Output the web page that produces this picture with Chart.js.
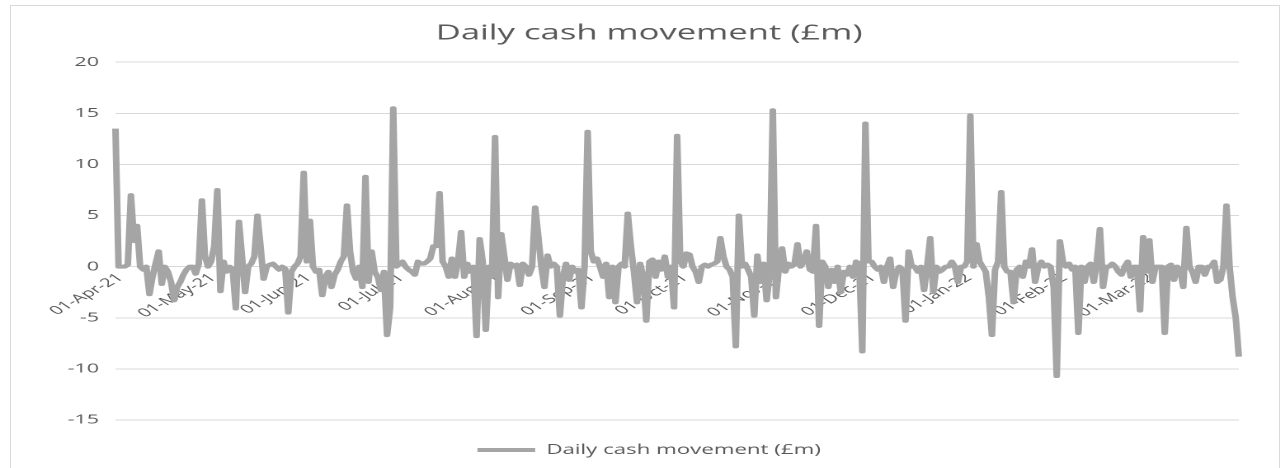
<!DOCTYPE html>
<html>
<head>
<meta charset="utf-8">
<title>Daily cash movement</title>
<script src="https://cdn.jsdelivr.net/npm/chart.js@4/dist/chart.umd.min.js"></script>
<style>
  html, body { margin: 0; padding: 0; background: #fff; }
  #wrap { position: relative; width: 1285px; height: 468px; overflow: hidden; }
  #frame { position: absolute; left: 10px; top: 5px; width: 1270px; height: 470px; border: 1px solid #d9d9d9; box-sizing: border-box; pointer-events: none; }
  canvas { display: block; }
</style>
</head>
<body>
<div id="wrap">
  <!-- the source picture is stretched ~1.65x horizontally, so the chart is drawn narrower and scaled with CSS -->
  <canvas id="chart" width="779" height="468" style="width:1285px;height:468px"></canvas>
  <div id="frame"></div>
</div>
<script>
// ── Data: daily cash movement (£m), 01-Apr-21 .. 31-Mar-22 ──
const startDate = [2021, 3, 1];
const monthNames = ['Jan','Feb','Mar','Apr','May','Jun','Jul','Aug','Sep','Oct','Nov','Dec'];
const monthTicks = ['01-Apr-21','01-May-21','01-Jun-21','01-Jul-21','01-Aug-21','01-Sep-21',
                    '01-Oct-21','01-Nov-21','01-Dec-21','01-Jan-22','01-Feb-22','01-Mar-22'];
const yTicks = [-15, -10, -5, 0, 5, 10, 15, 20];

const apr21 = [13.5, 0, 0, 0, 0.2, 7, 2.5, 4, 0, -0.3, 0, -2.7, -1, 0.3, 1.5, -1.7, 0, -0.5, -1.5, -3.3,
               -2, -1.5, -0.8, -0.3, 0, 0, -0.7, 0.3, 6.5, 1];
const may21 = [0, 0.5, 2, 7.5, -2.4, 0.5, -0.5, 0, -0.3, -4.1, 4.4, 1, -2.5, 0, 0.3, 1, 5, 2, -1.2, 0,
               0.2, 0.3, 0, -0.3, 0, -0.2, -4.5, -0.5, 0, 0.3, 1];
const jun21 = [9.2, 0.5, 4.5, 0, -0.5, -0.3, -2.8, -1, -0.5, -2, -0.8, -0.3, 0.5, 1, 6, 1.5, -0.5, -1.2, 0, -2,
               8.8, -1.5, 1.5, -0.5, -1, -2.3, -0.5, -6.7, -4, 15.5];
const jul21 = [0, 0.3, 0.5, 0, -0.3, -0.5, -0.8, 0.5, 0.3, 0.3, 0.5, 0.8, 2, 2, 7.2, 0.5, 0, -1, 0.8, -1,
               0.5, 3.4, -1, 0.3, -0.5, 0, -6.8, 2.7, 0.5, -6.2, 0];
const aug21 = [-1, 12.7, -3, 3.2, 1, -1.3, 0.3, 0, 0.2, -1.8, 0.3, 0, -0.8, 0, 5.8, 3, 0, -2, 1.1, 0,
               0.3, 0, -4.8, -1, 0.3, -1.3, 0, -0.5, -0.3, -4, 0];
const sep21 = [13.2, 1.5, 0.5, 0.8, 0, -1, 0.3, -3, 0, -3.5, 0, 0.3, 0, 5.2, 2, -0.5, -3.5, 0.3, -1, -5.3,
               0.5, 0.7, -1, 0.5, -0.3, 1, -1, 0, -4, 12.8];
const oct21 = [0.5, 0, 1.3, 1.2, 0, -0.5, -1.5, 0, 0.2, 0, 0.2, 0.3, 0.5, 2.8, 1, 0, -0.3, -1, -7.8, 5,
               0, 0.3, -0.3, -1, -4.8, 1.1, -1.5, 0.3, -3.3, -0.5, 15.3];
const nov21 = [-3, 0, 1.8, -0.5, 0.3, 0, 0.2, 2.2, 0, 0.5, 1.5, -0.3, -0.5, 4, -5.8, 0.5, 0, -2, -0.3, -1.5,
               0, -2.5, -0.5, -0.8, 0, -1, 0.5, 0.3, -8.3, 14];
const dec21 = [0.5, 0.5, 0, -0.3, 0, -1.5, 0, 0.8, -2, -0.5, 0, -0.3, -5.3, 1.5, 0, 0, -0.5, 0, -2.3, 0,
               2.8, -2.5, 0, -0.5, -0.3, 0, 0, 0.5, 0, -1.5, 0];
const jan22 = [0, 0.5, 14.8, 0, 2.2, 0.5, 0, -0.5, -3, -6.7, -0.3, 0.5, 7.3, 0, -0.5, -0.5, -3.5, -0.3, 0, -1,
               0.5, 0, 1.7, -1.5, 0, 0.5, 0, 0.2, 0, -2, -10.7];
const feb22 = [2.5, 0.5, 0, 0.3, -0.3, 0, -6.5, 0, -1.5, 0, 0.3, -1.5, 0.5, 3.7, -2, 0, 0, 0.3, 0, -0.5,
               -0.8, 0, 0.5, -1, 0, 0, -4.3, 2.9];
const mar22 = [-0.5, 2.6, -1.5, 0, 0, 0, -6.5, 0, 0.2, -1.3, 0, -0.3, -2, 3.8, 0, -0.5, -1.5, 0, 0, -0.8,
               0, 0, 0.5, -1.5, -1.3, 0, 6, 0, -3, -5, -8.8];

const cashValues = [].concat(apr21, may21, jun21, jul21, aug21, sep21, oct21, nov21, dec21, jan22, feb22, mar22);

// day labels like 01-Apr-21
const dayLabels = [];
const t0 = Date.UTC(startDate[0], startDate[1], startDate[2]);
for (let i = 0; i < cashValues.length; i++) {
  const d = new Date(t0 + i * 86400000);
  const dd = String(d.getUTCDate()).padStart(2, '0');
  const yy = String(d.getUTCFullYear()).slice(2);
  dayLabels.push(`${dd}-${monthNames[d.getUTCMonth()]}-${yy}`);
}

const FONT = "'Open Sans', 'DejaVu Sans', sans-serif";
const TXT = '#595959';
const LINE = '#a5a5a5';

new Chart(document.getElementById('chart'), {
  type: 'line',
  data: {
    labels: dayLabels,
    datasets: [{
      label: 'Daily cash movement (£m)',
      data: cashValues,
      borderColor: LINE,
      backgroundColor: LINE,
      borderWidth: 4,
      borderJoinStyle: 'round',
      pointRadius: 0,
      tension: 0
    }]
  },
  options: {
    responsive: false,
    animation: false,
    devicePixelRatio: 2,
    layout: { padding: { top: 0, right: 28, bottom: 1.25, left: 36 } },
    plugins: {
      title: {
        display: true,
        text: 'Daily cash movement (£m)',
        color: TXT,
        font: { family: FONT, size: 21, weight: 'normal' },
        padding: { top: 21, bottom: 16 }
      },
      legend: {
        position: 'bottom',
        labels: {
          usePointStyle: true, pointStyle: 'line', pointStyleWidth: 35,
          color: TXT, font: { family: FONT, size: 13.5 }, padding: 23.25
        }
      },
      tooltip: { enabled: false }
    },
    scales: {
      x: {
        type: 'category',
        position: { y: 0 },
        grid: { display: false },
        border: { display: false },
        ticks: {
          autoSkip: false, maxRotation: 42, minRotation: 42, padding: -4, labelOffset: 3,
          color: TXT, font: { family: FONT, size: 12 },
          callback(v) {
            const l = this.getLabelForValue(v);
            return monthTicks.includes(l) ? l : null;
          }
        }
      },
      y: {
        min: yTicks[0], max: yTicks[yTicks.length - 1],
        grid: { color: '#d9d9d9', drawTicks: false },
        border: { display: false },
        ticks: { stepSize: 5, padding: 10, color: TXT, font: { family: FONT, size: 13 } },
        afterFit(a) { a.width = 34; }
      }
    }
  }
});
</script>
</body>
</html>
